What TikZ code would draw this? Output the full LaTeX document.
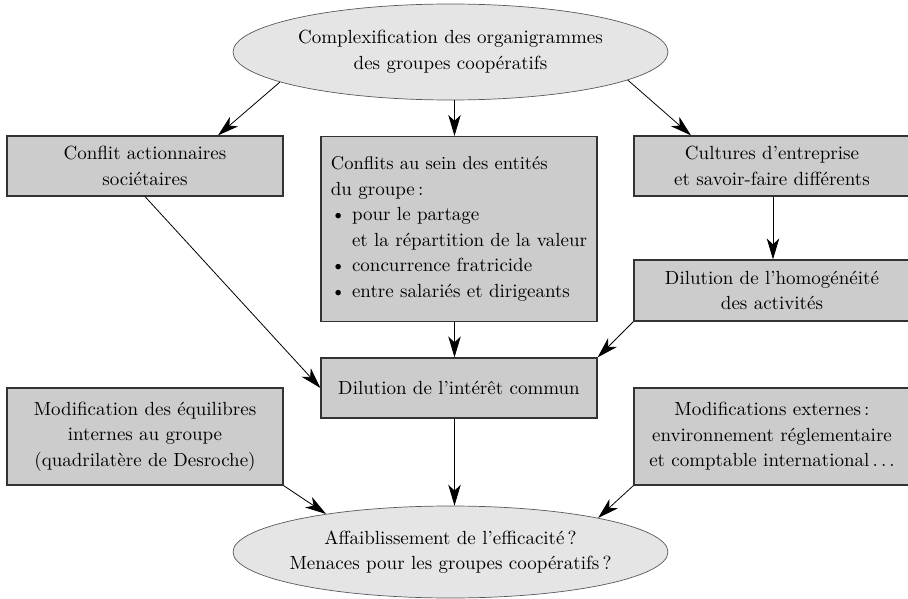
\documentclass[tikz,border=0pt]{standalone}
\usepackage{fontspec}
\setmainfont{lmroman10-regular}[Extension=.otf]
\usetikzlibrary{shapes.geometric,arrows.meta}
\definecolor{boxfill}{gray}{0.8}
\definecolor{ellfill}{gray}{0.9}
\definecolor{boxline}{gray}{0.2}
\definecolor{ellline}{gray}{0.35}
\begin{document}
\begin{tikzpicture}[x=1pt,y=-1pt,
  every node/.style={font=\fontsize{19}{25.5}\selectfont},
  boxnode/.style={draw=boxline, line width=1.2pt, fill=boxfill, rectangle, align=center,
    minimum width=276pt, inner sep=0pt},
  ellnode/.style={draw=ellline, line width=0.7pt, fill=ellfill, ellipse, align=center,
    minimum width=435pt, minimum height=96pt, inner xsep=-30pt, inner ysep=0pt},
  arr/.style={-{Stealth[length=21pt,width=12.5pt,inset=6pt]}, line width=0.8pt, black}]
\useasboundingbox (0,0) rectangle (908,599);
\node[ellnode] (top) at (450.5,52) {Complexification des organigrammes\\des groupes coopératifs};
\node[boxnode, minimum height=60pt] (conf) at (145,166) {Conflit actionnaires\\sociétaires};
\node[boxnode, minimum height=185pt, align=left] (mid) at (459,229)
  {\fontsize{18.5}{26.2}\selectfont Conflits au sein des entités\\du groupe\,:\\\textbullet\ pour le partage\\\phantom{\textbullet\ }et la répartition de la valeur\\\textbullet\ concurrence fratricide\\\textbullet\ entre salariés et dirigeants};
\node[boxnode, minimum height=60pt] (cult) at (772,166) {Cultures d’entreprise\\et savoir-faire différents};
\node[boxnode, minimum height=61pt] (homog) at (772,290.5) {Dilution de l’homogénéité\\des activités};
\node[boxnode, minimum height=60pt] (dil) at (459,388) {Dilution de l’intérêt commun};
\node[boxnode, minimum height=97pt] (modif) at (145,436.5) {Modification des équilibres\\internes au groupe\\(quadrilatère de Desroche)};
\node[boxnode, minimum height=97pt] (ext) at (772,436.5) {Modifications externes\,:\\environnement réglementaire\\et comptable international\,.\,.\,.};
\node[ellnode, minimum height=92pt] (bot) at (450.5,552) {Affaiblissement de l’efficacité\,?\\Menaces pour les groupes coopératifs\,?};
\draw[arr] (top.190.5) -- ([xshift=73pt]conf.north);
\draw[arr] ([xshift=4pt]top.south) -- ([xshift=-4.5pt]mid.north);
\draw[arr] (top.351.9) -- ([xshift=-81pt]cult.north);
\draw[arr] ([xshift=1pt]cult.south) -- ([xshift=1pt]homog.north);
\draw[arr] (conf.south) -- (dil.west);
\draw[arr] ([xshift=-4.5pt]mid.south) -- ([xshift=-4.5pt]dil.north);
\draw[arr] (homog.south west) -- (dil.north east);
\draw[arr] ([xshift=-4.5pt]dil.south) -- ([xshift=4pt]bot.north);
\draw[arr] (modif.south east) -- (bot.163.6);
\draw[arr] (ext.south west) -- (bot.13.3);
\end{tikzpicture}
\end{document}
